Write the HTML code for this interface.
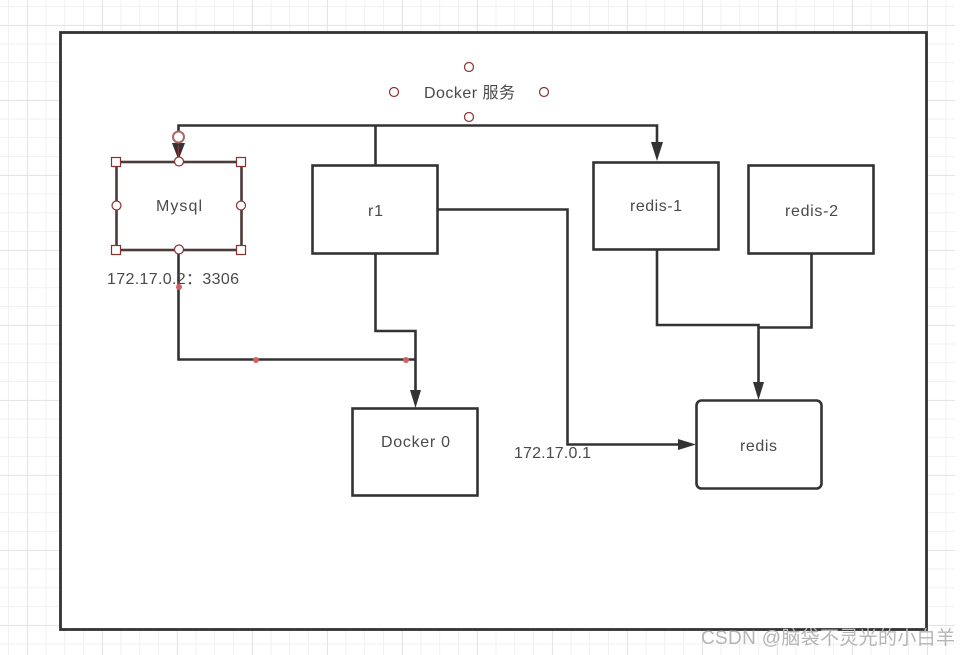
<!DOCTYPE html>
<html><head><meta charset="utf-8">
<style>
html,body{margin:0;padding:0;background:#fff;overflow:hidden}
svg{display:block}
text{font-family:"Liberation Sans","Noto Sans CJK SC",sans-serif;font-size:16px;fill:#4a4a4a}
</style></head>
<body>
<svg width="968" height="655" viewBox="0 0 968 655" xmlns="http://www.w3.org/2000/svg">
<defs>
<pattern id="g" x="8" y="6" width="18.75" height="18.75" patternUnits="userSpaceOnUse">
<path d="M0.5 0V18.75M0 0.5H18.75" stroke="#f1f1f1" stroke-width="1" fill="none"/>
</pattern>
<pattern id="G" x="27" y="25" width="75" height="75" patternUnits="userSpaceOnUse">
<path d="M0.5 0V75M0 0.5H75" stroke="#e5e5e5" stroke-width="1" fill="none"/>
</pattern>
</defs>
<rect x="0" y="0" width="955" height="655" fill="url(#g)"/>
<rect x="0" y="0" width="955" height="655" fill="url(#G)"/>
<rect x="60.5" y="32.5" width="866" height="597" fill="#fff" stroke="#333" stroke-width="2.800"/>

<g fill="none" stroke="#333" stroke-width="2.600">
<rect x="312.500" y="165.500" width="125" height="88"/>
<rect x="593.500" y="162.500" width="125" height="87"/>
<rect x="748.500" y="165.500" width="125" height="88"/>
<rect x="352.500" y="408.500" width="125" height="87"/>
<rect x="696.500" y="400.500" width="125" height="88" rx="5"/>
<path d="M178.500 145V125.500H657V146"/>
<path d="M375.500 126V165"/>
<path d="M375.500 253V331H415.500V393"/>
<path d="M178.500 250V359.500H415"/>
<path d="M438 209.500H567.500V444.500H680"/>
<path d="M657 250V325H758.500V385"/>
<path d="M811.500 253V327.500H758.500"/>
</g>
<g fill="#333">
<path d="M651 142H663L657 161Z"/>
<path d="M410 390H421L415.500 408Z"/>
<path d="M753 382H764L758.500 400Z"/>
<path d="M678 439L696 444.500L678 450Z"/>
</g>

<rect x="116.500" y="162" width="125" height="88" fill="#fff" stroke="#4d3a3a" stroke-width="2.600"/>
<path d="M172 143H185L178.500 160Z" fill="#333"/>
<path d="M178.500 145V160" stroke="#933" stroke-width="1"/>

<g fill="#fff" stroke="#8a3030" stroke-width="1.200">
<rect x="111.500" y="157.500" width="9" height="9"/>
<rect x="236.500" y="157.500" width="9" height="9"/>
<rect x="111.500" y="245.500" width="9" height="9"/>
<rect x="236.500" y="245.500" width="9" height="9"/>
<circle cx="179" cy="161.500" r="4.500"/>
<circle cx="179" cy="249.500" r="4.500"/>
<circle cx="116.500" cy="205.500" r="4.500"/>
<circle cx="241" cy="205.500" r="4.500"/>
<circle cx="469" cy="67" r="4.500"/>
<circle cx="469" cy="117" r="4.500"/>
<circle cx="394" cy="92" r="4.500"/>
<circle cx="544" cy="92" r="4.500"/>
</g>
<circle cx="178.500" cy="137" r="5.500" fill="#fff" stroke="#a86a6a" stroke-width="2"/>
<g fill="#d65f5f">
<circle cx="179" cy="287" r="3"/>
<circle cx="256" cy="360" r="3"/>
<circle cx="406" cy="360" r="3"/>
</g>

<text x="424" y="98" textLength="91" lengthAdjust="spacing">Docker 服务</text>
<text x="156" y="211" textLength="46" lengthAdjust="spacing">Mysql</text>
<text x="368" y="216" textLength="15" lengthAdjust="spacing">r1</text>
<text x="630" y="211" textLength="52" lengthAdjust="spacing">redis-1</text>
<text x="785" y="216" textLength="53" lengthAdjust="spacing">redis-2</text>
<text x="381" y="447" textLength="69" lengthAdjust="spacing">Docker 0</text>
<text x="740" y="451" textLength="37" lengthAdjust="spacing">redis</text>
<text x="107" y="284" textLength="132" lengthAdjust="spacing">172.17.0.2：3306</text>
<text x="514" y="458" textLength="77" lengthAdjust="spacing">172.17.0.1</text>
<text x="701" y="644" textLength="254" lengthAdjust="spacing" style="font-size:19px;fill:#b5b5b5">CSDN @脑袋不灵光的小白羊</text>
</svg>
</body></html>
